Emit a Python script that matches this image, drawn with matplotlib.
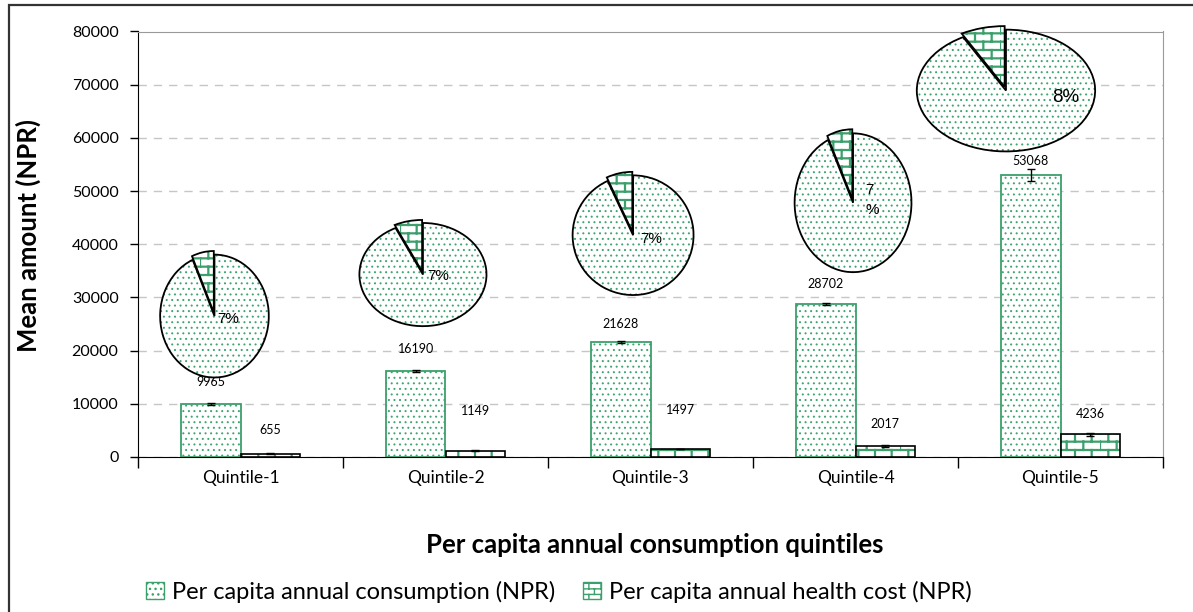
import warnings
warnings.filterwarnings("ignore")
import numpy as np
import matplotlib
matplotlib.use("Agg")
import matplotlib.pyplot as plt
import matplotlib.hatch as mhatch
from matplotlib.path import Path
from matplotlib.patches import Rectangle, Patch

# ---------------- data ----------------
categories = ["Quintile-1", "Quintile-2", "Quintile-3", "Quintile-4", "Quintile-5"]
consumption = [9965, 16190, 21628, 28702, 53068]
health_cost = [655, 1149, 1497, 2017, 4236]
consumption_err = [250, 180, 220, 200, 1100]
health_err = [60, 90, 70, 150, 250]
pie_labels = ["7%", "7%", "7%", "7\n%", "8%"]
series_names = ["Per capita annual consumption (NPR)", "Per capita annual health cost (NPR)"]
y_ticks = [0, 10000, 20000, 30000, 40000, 50000, 60000, 70000, 80000]

# ---------------- layout / style ----------------
GREEN = "#3c9f6c"
DOTGREEN = "#40a572"
# pie centers (data x, data y), width (data x units), height (data y units)
pie_layout = [(-0.127, 26500, 0.53, 23100),
              (0.890, 34300, 0.62, 19400),
              (1.915, 41700, 0.59, 22500),
              (2.988, 47800, 0.57, 26100),
              (3.734, 68900, 0.87, 22900)]
pie_label_offsets = [(2, -2), (3, -1), (5, -3), (9, 2), (33, -5)]  # points
pie_label_sizes = [11, 11, 11, 11, 13.5]
cons_label_off = [16, 16, 13, 15, 10]
health_label_off = [17, 29, 28, 16, 15]


# custom brick hatch
class BrickHatch(mhatch.HatchPatternBase):
    def __init__(self, hatch, density):
        n = hatch.count('b') * density
        n = int(n) - int(n) % 2
        self.n = n
        if n:
            self.num_vertices = 2 * (n + 1) + 2 * n * (n // 2)
        else:
            self.num_vertices = 0

    def set_vertices_and_codes(self, vertices, codes):
        n = self.n
        h = 1.0 / n
        k = 0
        for i in range(n + 1):
            vertices[k] = (0, i * h); vertices[k + 1] = (1, i * h)
            codes[k] = Path.MOVETO; codes[k + 1] = Path.LINETO
            k += 2
        for i in range(n):
            off = (i % 2) * h
            for j in range(n // 2):
                xx = off + j * 2 * h
                vertices[k] = (xx, i * h); vertices[k + 1] = (xx, (i + 1) * h)
                codes[k] = Path.MOVETO; codes[k + 1] = Path.LINETO
                k += 2


mhatch._hatch_types.append(BrickHatch)

DOTS = "..."
BRICK = "bb"
DOT_LW = 0.7
BRICK_LW = 1.6


def hatch_lw(artists, lw):
    for a in artists:
        if hasattr(a, "set_hatch_linewidth"):
            a.set_hatch_linewidth(lw)


plt.rcParams['font.family'] = ['Lato', 'DejaVu Sans']
plt.rcParams['hatch.linewidth'] = 1.0

fig = plt.figure(figsize=(11.93, 6.12), dpi=100)
ax = fig.add_axes([138 / 1193, 1 - 457 / 612, 1025 / 1193, 425.5 / 612])

# chart-area border (right/bottom edges lie outside the picture)
fig.patches.append(Rectangle((9 / 1193, -0.05), 1.2, 1 - 5 / 612 + 0.05,
                             transform=fig.transFigure, fill=False,
                             edgecolor="#333333", linewidth=1.6, zorder=0))

x = np.arange(len(categories))
w = 0.29

# consumption bars
b1 = ax.bar(x - w / 2, consumption, w, color="white", edgecolor=DOTGREEN, hatch=DOTS,
            linewidth=0, zorder=3)
hatch_lw(b1, DOT_LW)
ax.bar(x - w / 2, consumption, w, fill=False, edgecolor=GREEN, linewidth=1.3, zorder=3)
ax.errorbar(x - w / 2, consumption, yerr=consumption_err, fmt="none", ecolor="black",
            elinewidth=1, capsize=3, zorder=4)
# health bars (green brick hatch, black outline)
b2 = ax.bar(x + w / 2, health_cost, w, color="white", edgecolor=GREEN, hatch=BRICK,
            linewidth=0, zorder=3)
hatch_lw(b2, BRICK_LW)
ax.bar(x + w / 2, health_cost, w, fill=False, edgecolor="black", linewidth=1.2, zorder=3)
ax.errorbar(x + w / 2, health_cost, yerr=health_err, fmt="none", ecolor="black",
            elinewidth=1, capsize=3, zorder=4)

for i in range(len(categories)):
    ax.annotate(str(consumption[i]), (x[i] - w / 2, consumption[i]),
                xytext=(0, cons_label_off[i]), textcoords="offset points",
                ha="center", va="center", fontsize=9, zorder=4.5)
    ax.annotate(str(health_cost[i]), (x[i] + w / 2, health_cost[i]),
                xytext=(0, health_label_off[i]), textcoords="offset points",
                ha="center", va="center", fontsize=9, zorder=4.5)

ax.set_xlim(-0.5, len(categories) - 0.5)
ax.set_ylim(0, 80000)
ax.set_yticks(y_ticks)
ax.set_yticklabels([str(v) for v in y_ticks], fontsize=11.5)
ax.tick_params(axis="y", direction="out", length=6, width=1, pad=8)
ax.set_xticks(x)
ax.set_xticklabels(categories, fontsize=12.5)
ax.tick_params(axis="x", which="major", length=0, pad=9)
ax.set_xticks(np.arange(-0.5, len(categories)), minor=True)
ax.tick_params(axis="x", which="minor", direction="out", length=8, width=1)

ax.grid(axis="y", color="#c6c6c6", linestyle=(0, (6, 5)), linewidth=1, zorder=0)
ax.set_axisbelow(True)
for s in ["top", "right"]:
    ax.spines[s].set_color("#9a9a9a")
for s in ["left", "bottom"]:
    ax.spines[s].set_color("black")

ax.set_ylabel("Mean amount (NPR)", fontsize=18.5, fontweight="bold")
ax.yaxis.set_label_coords((41 - 138) / 1025, 0.52)

fig.text(655 / 1193, 1 - 545 / 612, "Per capita annual consumption quintiles",
         ha="center", va="center", fontsize=18.5, fontweight="bold")

# pies
for i in range(len(categories)):
    cx, cy, pw, ph = pie_layout[i]
    share = [health_cost[i], consumption[i] - health_cost[i]]
    iax = ax.inset_axes([cx - pw / 2, cy - ph / 2, pw, ph], transform=ax.transData,
                        zorder=5)
    for layer in (0, 1):
        wedges, _ = iax.pie(share, startangle=90, counterclock=True,
                            explode=[0.06, 0], radius=1)
        for k, wd in enumerate(wedges):
            wd.set_clip_on(False)
            if layer == 0:
                wd.set_facecolor("white")
                wd.set_edgecolor(GREEN if k == 0 else DOTGREEN)
                wd.set_linewidth(0)
                wd.set_hatch(BRICK if k == 0 else DOTS)
                hatch_lw([wd], BRICK_LW if k == 0 else DOT_LW)
            else:
                wd.set_fill(False)
                wd.set_edgecolor("black")
                wd.set_linewidth(1.3)
    iax.set_aspect("auto")
    iax.set_xlim(-1, 1)
    iax.set_ylim(-1, 1)
    iax.axis("off")
    ax.annotate(pie_labels[i], (cx, cy), xytext=pie_label_offsets[i],
                textcoords="offset points", ha="left", va="center",
                fontsize=pie_label_sizes[i], zorder=7, linespacing=1.5,
                family=["Liberation Sans", "DejaVu Sans"])

# legend
h1 = Patch(facecolor="white", edgecolor=GREEN, hatch="...", linewidth=1)
h2 = Patch(facecolor="white", edgecolor=GREEN, hatch="bbb", linewidth=1)
fig.legend([h1, h2], series_names, loc="center", bbox_to_anchor=(559 / 1193, 1 - 592 / 612),
           ncol=2, frameon=False, fontsize=17, handlelength=0.75, handleheight=0.75,
           handletextpad=0.35, columnspacing=1.2)

fig.savefig("out.png", dpi=100)
